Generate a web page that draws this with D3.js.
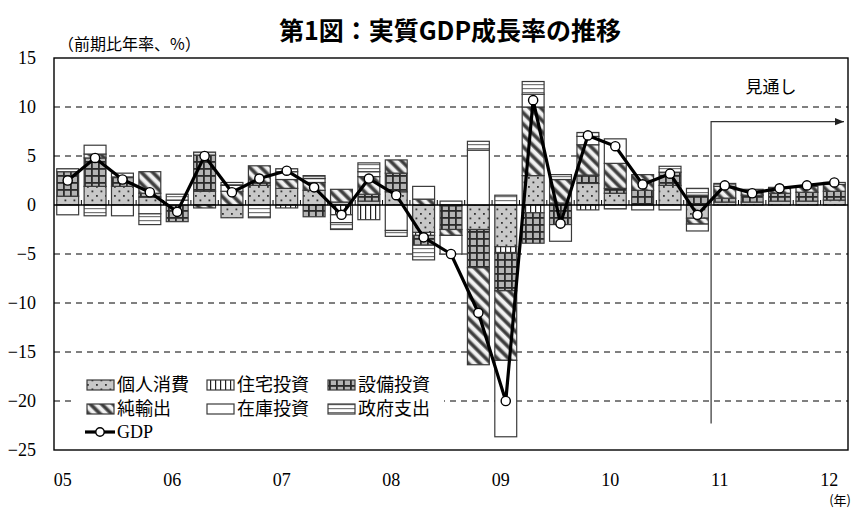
<!DOCTYPE html>
<html>
<head>
<meta charset="utf-8">
<script src="https://cdn.jsdelivr.net/npm/d3@7.9.0/dist/d3.min.js"></script>
<style>
  body { margin: 0; background: #fff; }
  svg { display: block; }
  .serif { font-family: "Liberation Serif", "Times New Roman", "DejaVu Serif", serif; }
  .jp { font-family: "Noto Sans CJK JP", sans-serif; }
</style>
</head>
<body>
<svg id="chart" width="865" height="511"></svg>
<script>
// quarters 2005Q1 - 2012Q1
const quarters = [
  '05Q1','05Q2','05Q3','05Q4','06Q1','06Q2','06Q3','06Q4',
  '07Q1','07Q2','07Q3','07Q4','08Q1','08Q2','08Q3','08Q4',
  '09Q1','09Q2','09Q3','09Q4','10Q1','10Q2','10Q3','10Q4',
  '11Q1','11Q2','11Q3','11Q4','12Q1'
];
const yearLabels = ['05','06','07','08','09','10','11','12'];
const yTicks = [15, 10, 5, 0, -5, -10, -15, -20, -25];

// contributions (%pt, annualised q/q)
const consumption = [0.9,1.9,1.9,0.8, 0,1.4,-1.3,2.0, 1.7,1.5,0.3,0.4, 1.35,-2.8,-0.1,-2.5, -4.25,3.0,0.2,2.2, 1.2,0,2.0,-1.35, 0.3,0.3,0.4,0.4, 0.5];
const housing     = [0,0,0,0, 0,0,0,0, -0.3,0,-1.0,-1.5, 0,-0.3,0,0, -0.6,-0.8,0,-0.5, 0,0,0,0, 0,0,0,0, 0];
const capex       = [2.5,2.9,0.9,0.4, -1.7,3.7,0,0.3, 0,-1.2,0,0.7, 1.9,-1.0,-2.4,-3.9, -3.9,-3.1,-2.0,0.85, 0.5,1.5,1.35,1.0, 0.4,0.7,0.8,0.9, 0.9];
const netExports  = [0,0.4,0,2.2, 0,-0.3,1.4,1.7, 0.9,0.8,1.3,1.8, 1.35,0.6,-0.6,-9.9, -7.1,7.0,2.4,3.1, 2.55,1.6,0,-0.6, 1.2,0.6,0.6,0.6, 0.7];
const inventory   = [-1.0,0.9,-1.1,-0.9, 0.5,0,0.6,0, 0.8,0.4,-0.8,0.5, -2.6,1.3,-1.9,5.6, -7.8,1.3,-1.7,0.85, 2.5,-0.5,-0.5,-0.7, 0,0,0,0, 0];
const government  = [0.3,-1.1,0.45,-1.1, 0.6,0.3,0.3,-1.3, 0.3,0.3,-0.7,0.9, -0.6,-1.5,0.4,0.9, 1.0,1.3,0.5,0.4, -0.4,0,0.6,0.7, 0.3,0,0,0, 0.2];
const gdp         = [2.5,4.8,2.6,1.3, -0.7,5.0,1.3,2.7, 3.5,1.8,-1.0,2.7, 1.0,-3.3,-5.0,-11.0, -20.0,10.7,-1.9,7.1, 6.0,2.1,3.2,-1.0, 2.0,1.2,1.7,2.0, 2.3];

const seriesKeys = ['個人消費','住宅投資','設備投資','純輸出','在庫投資','政府支出'];
const seriesData = [consumption, housing, capex, netExports, inventory, government];
const patternIds = ['p-dots','p-vlines','p-grid','p-diag','p-white','p-hlines'];
const forecastStart = '11Q1';

const rows = quarters.map((q, i) => {
  let r = { q: q };
  seriesKeys.forEach((k, j) => { r[k] = seriesData[j][i]; });
  return r;
});

const svg = d3.select('#chart');
const margin = { left: 54, right: 848, top: 58, bottom: 450 };

let x = d3.scaleBand()
  .domain(quarters)
  .range([margin.left, margin.right])
  .paddingInner(0.2)
  .paddingOuter(0.1);
let y = d3.scaleLinear().domain([-25, 15]).range([margin.bottom, margin.top]);

// patterns
const defs = svg.append('defs');
let p = defs.append('pattern').attr('id', 'p-dots').attr('patternUnits', 'userSpaceOnUse')
  .attr('width', 9).attr('height', 9);
p.append('rect').attr('width', 9).attr('height', 9).attr('fill', '#c8c8c8');
p.append('rect').attr('x', 1.5).attr('y', 1.5).attr('width', 1.8).attr('height', 1.8).attr('fill', '#333');
p.append('rect').attr('x', 6).attr('y', 6).attr('width', 1.8).attr('height', 1.8).attr('fill', '#333');

p = defs.append('pattern').attr('id', 'p-vlines').attr('patternUnits', 'userSpaceOnUse')
  .attr('width', 5).attr('height', 5);
p.append('rect').attr('width', 5).attr('height', 5).attr('fill', '#fff');
p.append('rect').attr('x', 0).attr('width', 1.2).attr('height', 5).attr('fill', '#222');

p = defs.append('pattern').attr('id', 'p-grid').attr('patternUnits', 'userSpaceOnUse')
  .attr('width', 7).attr('height', 7);
p.append('rect').attr('width', 7).attr('height', 7).attr('fill', '#b4b4b4');
p.append('rect').attr('width', 1.8).attr('height', 7).attr('fill', '#2a2a2a');
p.append('rect').attr('width', 7).attr('height', 1.8).attr('fill', '#2a2a2a');

p = defs.append('pattern').attr('id', 'p-diag').attr('patternUnits', 'userSpaceOnUse')
  .attr('width', 8).attr('height', 8).attr('patternTransform', 'rotate(-45)');
p.append('rect').attr('width', 8).attr('height', 8).attr('fill', '#f2f2f2');
p.append('rect').attr('x', 0).attr('width', 4.4).attr('height', 8).attr('fill', '#8a8a8a');
p.append('rect').attr('x', 0.9).attr('width', 2.6).attr('height', 8).attr('fill', '#3c3c3c');

p = defs.append('pattern').attr('id', 'p-white').attr('patternUnits', 'userSpaceOnUse')
  .attr('width', 4).attr('height', 4);
p.append('rect').attr('width', 4).attr('height', 4).attr('fill', '#fff');

p = defs.append('pattern').attr('id', 'p-hlines').attr('patternUnits', 'userSpaceOnUse')
  .attr('width', 4).attr('height', 4);
p.append('rect').attr('width', 4).attr('height', 4).attr('fill', '#fff');
p.append('rect').attr('y', 0).attr('width', 4).attr('height', 1.2).attr('fill', '#777');

// title
svg.append('text')
  .attr('class', 'jp')
  .attr('x', 450).attr('y', 40)
  .attr('text-anchor', 'middle')
  .attr('font-weight', 'bold')
  .attr('font-size', 25)
  .text('第1図：実質GDP成長率の推移');

svg.append('text')
  .attr('class', 'jp')
  .attr('x', 58).attr('y', 50)
  .attr('font-size', 16)
  .text('（前期比年率、%）');

// gridlines
svg.append('g')
  .selectAll('line')
  .data(yTicks.filter((t) => t !== 15 && t !== -25 && t !== 0))
  .join('line')
  .attr('x1', margin.left).attr('x2', margin.right)
  .attr('y1', (d) => y(d)).attr('y2', (d) => y(d))
  .attr('stroke', '#000')
  .attr('stroke-width', 1)
  .attr('stroke-dasharray', '6,5');

// y axis labels
let yAxis = d3.axisLeft(y).tickValues(yTicks).tickSize(0).tickPadding(18);
let yg = svg.append('g').attr('transform', `translate(${margin.left},0)`).call(yAxis);
yg.attr('font-family', null).attr('font-size', null);
yg.select('.domain').remove();
yg.selectAll('text')
  .attr('class', 'serif')
  .attr('font-size', 18)
  .attr('fill', '#000');

// stacked bars
let stacked = d3.stack().keys(seriesKeys).offset(d3.stackOffsetDiverging)(rows);

svg.append('g')
  .selectAll('g')
  .data(stacked)
  .join('g')
  .attr('fill', (d, i) => `url(#${patternIds[i]})`)
  .selectAll('rect')
  .data((d) => d.filter((s) => s[1] - s[0] !== 0))
  .join('rect')
  .attr('x', (d) => x(d.data.q))
  .attr('width', x.bandwidth())
  .attr('y', (d) => y(d[1]))
  .attr('height', (d) => y(d[0]) - y(d[1]))
  .attr('stroke', '#3a3a3a')
  .attr('stroke-width', 1.2);

// zero line and category ticks
svg.append('line')
  .attr('x1', margin.left).attr('x2', margin.right)
  .attr('y1', y(0)).attr('y2', y(0))
  .attr('stroke', '#000').attr('stroke-width', 1.3);

let gap = x.step() - x.bandwidth();
svg.append('g')
  .selectAll('line')
  .data(quarters.slice(1))
  .join('line')
  .attr('x1', (d) => x(d) - gap / 2).attr('x2', (d) => x(d) - gap / 2)
  .attr('y1', y(0)).attr('y2', y(0) - 5)
  .attr('stroke', '#000').attr('stroke-width', 1);

// forecast marker
let fx = x(forecastStart) - gap / 2;
defs.append('marker')
  .attr('id', 'arrow').attr('viewBox', '0 0 10 10')
  .attr('refX', 10).attr('refY', 5)
  .attr('markerWidth', 9).attr('markerHeight', 9)
  .attr('markerUnits', 'userSpaceOnUse')
  .attr('orient', 'auto')
  .append('path').attr('d', 'M0,1 L10,5 L0,9 Z').attr('fill', '#222');

svg.append('path')
  .attr('d', `M${fx},${y(-22.3)} L${fx},${y(8.5)} L${margin.right - 4},${y(8.5)}`)
  .attr('fill', 'none')
  .attr('stroke', '#333')
  .attr('stroke-width', 1.2)
  .attr('marker-end', 'url(#arrow)');

svg.append('text')
  .attr('class', 'jp')
  .attr('x', 771).attr('y', 93)
  .attr('text-anchor', 'middle')
  .attr('font-size', 17)
  .text('見通し');

// GDP line
let line = d3.line().x((d, i) => x(quarters[i]) + x.bandwidth() / 2).y((d) => y(d));
svg.append('path')
  .datum(gdp)
  .attr('d', line)
  .attr('fill', 'none')
  .attr('stroke', '#000')
  .attr('stroke-width', 3.2)
  .attr('stroke-linejoin', 'round');

svg.append('g')
  .selectAll('circle')
  .data(gdp)
  .join('circle')
  .attr('cx', (d, i) => x(quarters[i]) + x.bandwidth() / 2)
  .attr('cy', (d) => y(d))
  .attr('r', 4.6)
  .attr('fill', '#fff')
  .attr('stroke', '#000')
  .attr('stroke-width', 1.4);

// plot frame
svg.append('rect')
  .attr('x', margin.left).attr('y', margin.top)
  .attr('width', margin.right - margin.left)
  .attr('height', margin.bottom - margin.top)
  .attr('fill', 'none')
  .attr('stroke', '#000')
  .attr('stroke-width', 1.4);

// x labels
svg.append('g')
  .selectAll('text')
  .data(yearLabels)
  .join('text')
  .attr('class', 'serif')
  .attr('x', (d) => x(d + 'Q1') + x.bandwidth() / 2 - 5)
  .attr('y', 486)
  .attr('text-anchor', 'middle')
  .attr('font-size', 18)
  .text((d) => d);

svg.append('text')
  .attr('class', 'jp')
  .attr('x', 851).attr('y', 505)
  .attr('text-anchor', 'end')
  .attr('font-size', 13)
  .text('(年)');

// legend
let legend = svg.append('g');
legend.append('rect')
  .attr('x', 76).attr('y', 371).attr('width', 368).attr('height', 72)
  .attr('fill', '#fff');

const legendCols = [87, 207, 328];
const legendRows = [385, 409];
seriesKeys.forEach((k, i) => {
  let lx = legendCols[i % 3];
  let ly = legendRows[Math.floor(i / 3)];
  legend.append('rect')
    .attr('x', lx).attr('y', ly - 5).attr('width', 27).attr('height', 10)
    .attr('fill', `url(#${patternIds[i]})`)
    .attr('stroke', '#3a3a3a').attr('stroke-width', 1.2);
  legend.append('text')
    .attr('class', 'jp')
    .attr('x', lx + 30).attr('y', ly + 6)
    .attr('font-size', 18)
    .text(k);
});

legend.append('line')
  .attr('x1', 85).attr('x2', 115).attr('y1', 432).attr('y2', 432)
  .attr('stroke', '#000').attr('stroke-width', 3.2);
legend.append('circle')
  .attr('cx', 100).attr('cy', 432).attr('r', 4.2)
  .attr('fill', '#fff').attr('stroke', '#000').attr('stroke-width', 1.4);
legend.append('text')
  .attr('class', 'serif')
  .attr('x', 117).attr('y', 438)
  .attr('font-size', 18)
  .text('GDP');
</script>
</body>
</html>
